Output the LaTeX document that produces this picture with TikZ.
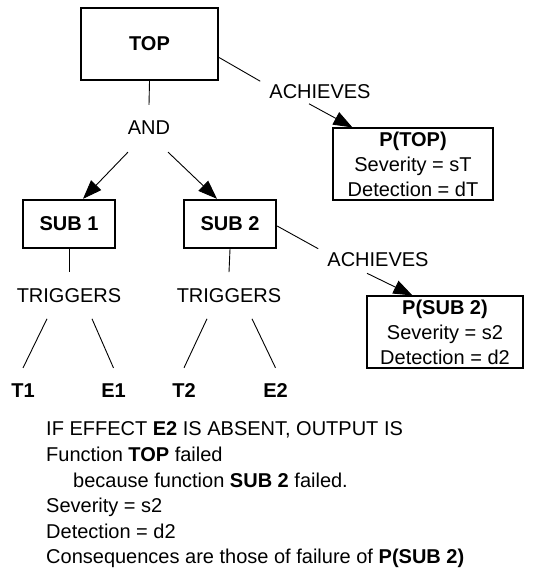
\documentclass[tikz,border=0pt]{standalone}
\usepackage{fontspec}
\setmainfont{Liberation Sans}
\usetikzlibrary{arrows.meta}
\begin{document}
\begin{tikzpicture}[x=1pt,y=-1pt,
  every node/.style={inner sep=0pt, font=\fontsize{20}{25}\selectfont},
  fbox/.style={draw, line width=2.3pt, inner sep=0pt},
  rbox/.style={draw, line width=1.1pt, inner sep=0pt, align=center},
  link/.style={line width=0.9pt},
  arr/.style={line width=0.9pt, -{Triangle[length=19pt,width=14pt]}},
  leaf/.style={font=\fontsize{20}{25}\selectfont\bfseries}]
\useasboundingbox (0,0) rectangle (546,572);

% functions
\node[fbox, minimum width=137pt, minimum height=72pt] (top) at (149.5,44) {\textbf{TOP}};
\node[fbox, minimum width=92pt, minimum height=48pt] (sub1) at (69,224) {\textbf{SUB 1}};
\node[fbox, minimum width=92pt, minimum height=48pt] (sub2) at (230,224) {\textbf{SUB 2}};

% relation labels
\node (and) at (149,128) {AND};
\node (ach1) at (320,91.5) {ACHIEVES};
\node (ach2) at (378,260) {ACHIEVES};
\node (trig1) at (69,295.5) {TRIGGERS};
\node (trig2) at (229,295.5) {TRIGGERS};

% triggers and effects
\node[leaf] (t1) at (23,391) {T1};
\node[leaf] (e1) at (113.5,391) {E1};
\node[leaf] (t2) at (184,391) {T2};
\node[leaf] (e2) at (275.5,391) {E2};

% outputs
\node[rbox, minimum width=160pt, minimum height=72pt] (ptop) at (413,164)
  {\textbf{P(TOP)}\\Severity = sT\\Detection = dT};
\node[rbox, minimum width=156pt, minimum height=72pt] (psub2) at (445,332)
  {\textbf{P(SUB 2)}\\Severity = s2\\Detection = d2};

% decomposition
\draw[link] (top.south) -- ([yshift=16pt]and.north);
\draw[arr] ([xshift=-21pt,yshift=-17pt]and.south) -- ([xshift=14pt]sub1.north);
\draw[arr] ([xshift=19pt,yshift=-17pt]and.south) -- ([xshift=-13pt]sub2.north);

% achieves
\draw[link] (top.-11) -- ([xshift=-9pt,yshift=3pt]ach1.north west);
\draw[arr] ([xshift=-11pt,yshift=-5pt]ach1.south) -- ([xshift=20pt]ptop.north west);
\draw[link] ([yshift=-2pt]sub2.east) -- ([xshift=-9pt,yshift=4pt]ach2.north west);
\draw[arr] ([xshift=-11pt,yshift=-6pt]ach2.south) -- ([xshift=46pt]psub2.north west);

% triggers
\draw[link] (sub1.south) -- ([yshift=16pt]trig1.north);
\draw[link] (sub2.south) -- ([yshift=16pt]trig2.north);
\draw[link] ([xshift=-22pt,yshift=-16pt]trig1.south) -- ([yshift=16pt]t1.north);
\draw[link] ([xshift=23pt,yshift=-16pt]trig1.south) -- ([yshift=16pt]e1.north);
\draw[link] ([xshift=-22pt,yshift=-16pt]trig2.south) -- ([yshift=16pt]t2.north);
\draw[link] ([xshift=23pt,yshift=-16pt]trig2.south) -- ([yshift=16pt]e2.north);

% resulting failure statement
\node[anchor=north west, align=left, font=\fontsize{20}{25.6}\selectfont] (note) at (46,421.7)
  {IF EFFECT \textbf{E2} IS ABSENT, OUTPUT IS\\
   Function \textbf{TOP} failed\\
   \hspace*{27pt}because function \textbf{SUB 2} failed.\\
   Severity = s2\\
   Detection = d2\\
   Consequences are those of failure of \textbf{P(SUB 2)}};
\end{tikzpicture}
\end{document}
